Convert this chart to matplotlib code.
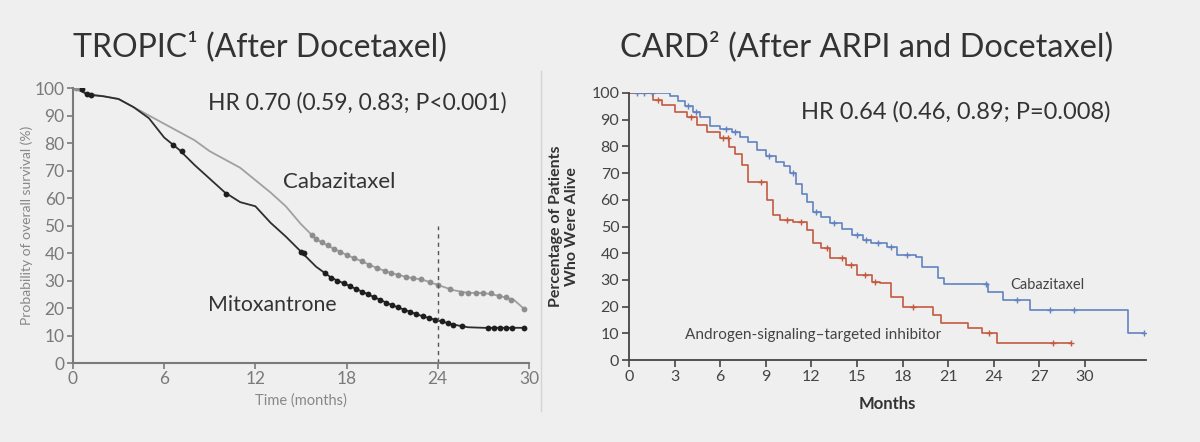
import numpy as np
import matplotlib.pyplot as plt
from matplotlib.lines import Line2D

# --- TROPIC (left) ---
tropic_t = [0, 0.5, 1, 2, 3, 4, 5, 6, 7, 8, 9, 10, 11, 12, 13, 14, 15, 16, 17, 18,
            19, 20, 21, 22, 23, 24, 25, 26, 27, 28, 29, 29.7]
caba_tropic = [100, 99, 98, 97, 96, 93, 90, 87, 84, 81, 77, 74, 71, 66.5, 62, 57, 50.5, 45,
               42, 39.3, 37, 34.5, 32.6, 31.2, 30.3, 28.4, 26.5, 25.5, 25.5, 24.5, 23, 19.6]
mito_tropic = [100, 99, 97.5, 97, 96, 93, 89, 82, 77.5, 72, 67, 62, 58.5, 57, 51, 46, 40.5, 35,
               31, 28.5, 26, 23.5, 21, 19, 17, 15.5, 14, 13, 12.8, 12.8, 12.8, 12.8]

caba_cens_t = [0.2, 0.4, 15.7, 16.0, 16.4, 16.8, 17.2, 17.6, 18.0, 18.5, 19.0, 19.5, 20.0, 20.5,
               20.9, 21.4, 21.9, 22.4, 22.9, 23.5, 24.0, 24.8, 25.5, 26.0, 26.5, 27.0, 27.5,
               28.0, 28.5, 28.8, 29.7]
caba_cens_s = [100, 100, 46.5, 45, 44, 42.8, 41.5, 40.5, 39.3, 38.2, 37, 35.8, 34.5, 33.5,
               32.7, 32.1, 31.4, 30.9, 30.4, 29.4, 28.4, 26.9, 25.5, 25.5, 25.5, 25.5, 25.3,
               24.5, 24, 23, 19.6]
mito_cens_t = [0.6, 0.9, 1.2, 6.6, 7.2, 10.1, 15.0, 15.2, 16.6, 17.0, 17.4, 17.8, 18.2, 18.6,
               19.0, 19.4, 19.8, 20.2, 20.6, 21.0, 21.4, 21.8, 22.2, 22.6, 23.0, 23.4, 23.8,
               24.3, 24.7, 25.0, 25.6, 27.3, 27.7, 28.1, 28.5, 28.9, 29.7]
mito_cens_s = [99.5, 98, 97.5, 79.3, 77, 61.5, 40.5, 40, 32.6, 31, 30, 29, 28, 27, 26, 25, 24,
               23, 22, 21, 20.2, 19.4, 18.6, 17.8, 17, 16.4, 15.8, 15.4, 14.6, 14, 13.4, 12.8,
               12.8, 12.8, 12.8, 12.8, 12.8]

# --- CARD (right) ---
caba_card_t = [0, 2.7, 3.2, 3.7, 4.2, 4.7, 5.3, 6.0, 6.8, 7.3, 7.8, 8.4, 9.0, 9.7, 10.2, 10.6,
               11.0, 11.4, 11.7, 12.1, 12.6, 13.2, 14.0, 14.7, 15.4, 15.9, 17.0, 17.6, 18.9,
               19.3, 20.3, 20.7, 23.6, 24.6, 26.4, 32.8, 33.9]
caba_card_s = [100, 99, 97, 95, 93, 91, 87.5, 86.5, 85.5, 83.5, 81.5, 78.5, 76.5, 74, 72.5, 70,
               66, 62, 59, 55.5, 53.5, 51.3, 49, 46.8, 45, 44, 42.3, 39.3, 38.6, 34.8, 30.7,
               28.3, 25.5, 22.3, 18.9, 10.1, 10.1]
arsi_card_t = [0, 1.6, 2.2, 3.0, 3.8, 4.5, 5.1, 6.0, 6.6, 7.0, 7.4, 7.8, 9.1, 9.5, 9.9, 10.8,
               11.7, 12.1, 12.6, 13.2, 14.3, 15.0, 16.0, 16.5, 17.2, 18.0, 20.0, 20.5, 22.3,
               23.2, 24.2, 29.1]
arsi_card_s = [100, 97.4, 95.5, 93, 91, 88, 85.4, 83, 79.8, 77, 73, 66.7, 60, 54.3, 52.4, 51.7,
               48.7, 43.8, 42, 38.2, 35.6, 31.8, 29.2, 28.8, 23.6, 19.9, 16.9, 13.9, 12, 10.1,
               6.4, 6.4]
caba_card_cens_t = [0.5, 1.0, 1.5, 3.9, 4.4, 6.4, 7.0, 9.2, 10.8, 12.3, 13.5, 15.0, 15.6, 16.4,
                    17.2, 18.3, 23.5, 25.5, 27.7, 29.3, 33.9]
caba_card_cens_s = [100, 100, 100, 95, 93, 86.5, 85.5, 76.5, 70, 55.5, 51.3, 46.8, 45, 44,
                    42.3, 39.3, 28.3, 22.3, 18.9, 18.9, 10.1]
arsi_card_cens_t = [1.9, 4.1, 6.2, 6.5, 8.7, 10.4, 11.3, 13.0, 14.0, 14.6, 15.5, 16.2, 18.7,
                    23.7, 27.9, 29.1]
arsi_card_cens_s = [97.4, 91, 83, 83, 66.7, 52.4, 51.7, 42, 38.2, 35.6, 31.8, 29.2, 19.9, 10.1,
                    6.4, 6.4]

BG = '#efefef'
TXT = '#333333'
plt.rcParams['font.family'] = ['Lato', 'DejaVu Sans']

fig = plt.figure(figsize=(12, 4.42), dpi=100, facecolor=BG)

# left panel
ax1 = fig.add_axes([0.0608, 0.1787, 0.38, 0.6222], facecolor=BG)
ax1.plot(tropic_t, caba_tropic, color='#a0a0a0', lw=1.3)
ax1.plot(tropic_t, mito_tropic, color='#2e2e2e', lw=1.3)
ax1.plot(caba_cens_t, caba_cens_s, 'o', color='#8e8e8e', ms=4.2, mec='none')
ax1.plot(mito_cens_t, mito_cens_s, 'o', color='#1e1e1e', ms=4.2, mec='none')
ax1.axvline(24, ymin=0, ymax=0.5, color='#555555', ls=(0, (3, 3)), lw=1)
ax1.set_xlim(0, 30)
ax1.set_ylim(0, 100)
ax1.set_xticks(range(0, 31, 6))
ax1.set_yticks(range(0, 101, 10))
for s in ['top', 'right']:
    ax1.spines[s].set_visible(False)
for s in ['left', 'bottom']:
    ax1.spines[s].set_color('#7a7a7a')
    ax1.spines[s].set_linewidth(1.5)
ax1.tick_params(colors='#7a7a7a', labelsize=12.5, length=4, width=1.2, pad=2)
ax1.set_xlabel('Time (months)', color='#888888', fontsize=10.5, labelpad=4)
ax1.set_ylabel('Probability of overall survival (%)', color='#888888', fontsize=10, labelpad=1)
ax1.text(8.9, 94.5, 'HR 0.70 (0.59, 0.83; P<0.001)', fontsize=16.5, color=TXT, va='center')
ax1.text(13.8, 66, 'Cabazitaxel', fontsize=16, color=TXT, va='center')
ax1.text(8.9, 21, 'Mitoxantrone', fontsize=15.3, color=TXT, va='center')

# right panel
ax2 = fig.add_axes([0.5242, 0.1855, 0.4307, 0.6041], facecolor=BG)
blue = '#6283bf'
red = '#c25a41'
ax2.plot(caba_card_t, caba_card_s, drawstyle='steps-post', color=blue, lw=1.2)
ax2.plot(arsi_card_t, arsi_card_s, drawstyle='steps-post', color=red, lw=1.2)
ax2.plot(caba_card_cens_t, caba_card_cens_s, '+', color=blue, ms=4, mew=1)
ax2.plot(arsi_card_cens_t, arsi_card_cens_s, '+', color=red, ms=4, mew=1)
ax2.set_xlim(0, 34)
ax2.set_ylim(0, 100)
ax2.set_xticks(range(0, 31, 3))
ax2.set_yticks(range(0, 101, 10))
for s in ['top', 'right']:
    ax2.spines[s].set_visible(False)
for s in ['left', 'bottom']:
    ax2.spines[s].set_color('#444444')
    ax2.spines[s].set_linewidth(1.3)
ax2.tick_params(colors='#444444', labelsize=11.5, length=5, width=1.2, pad=2)
ax2.set_xlabel('Months', color=TXT, fontsize=12, fontweight='bold', labelpad=9)
ax2.set_ylabel('Percentage of Patients\nWho Were Alive', color=TXT, fontsize=11.5,
               fontweight='bold', labelpad=9)
ax2.text(11.3, 93, 'HR 0.64 (0.46, 0.89; P=0.008)', fontsize=17, color=TXT, va='center')
ax2.text(25.1, 28, 'Cabazitaxel', fontsize=10.5, color='#444444', va='center')
ax2.text(3.7, 9.5, 'Androgen-signaling\u2013targeted inhibitor', fontsize=11, color='#444444',
         va='center')

# titles
fig.text(0.061, 0.895, 'TROPIC\u00b9 (After Docetaxel)', fontsize=23, color=TXT, va='center')
fig.text(0.517, 0.895, 'CARD\u00b2 (After ARPI and Docetaxel)', fontsize=23.4, color=TXT,
         va='center')

# separator
fig.add_artist(Line2D([0.451, 0.451], [0.07, 0.84], color='#d4d4d4', lw=1))

fig.savefig('out.png', dpi=100, facecolor=BG)
